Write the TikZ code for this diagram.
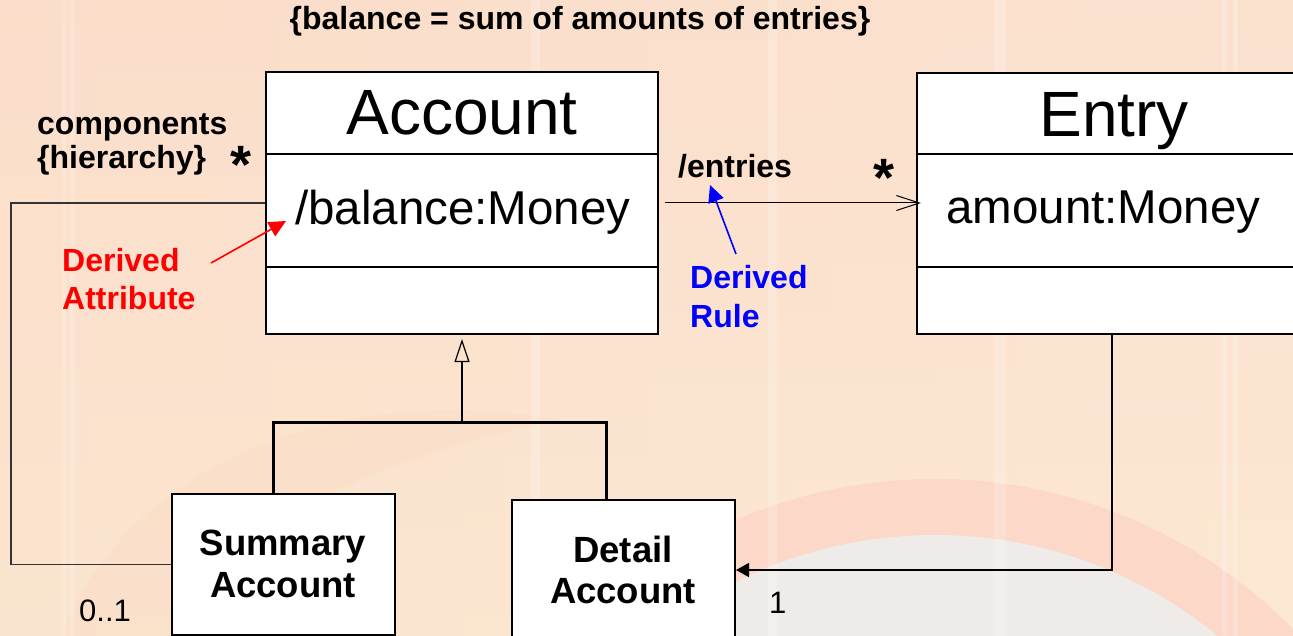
\documentclass[tikz,border=0pt]{standalone}
\usepackage{fontspec}
\setmainfont{Liberation Sans}
\usetikzlibrary{arrows.meta}

% slide background
\definecolor{bgL}{HTML}{FBE0CB}
\definecolor{bgR}{HTML}{FCE7D4}
\definecolor{bgTop}{HTML}{FADCCA}
\definecolor{bgBot}{HTML}{FCE9D3}
\definecolor{bandpink}{HTML}{FCD8C8}
\definecolor{diskgrey}{HTML}{EFEBE8}
\definecolor{swirl}{HTML}{F6C9A6}
% diagram
\definecolor{notered}{HTML}{FF0000}
\definecolor{noteblue}{HTML}{0000FF}
\definecolor{wire}{HTML}{333333}

\begin{document}
\begin{tikzpicture}[x=1pt,y=-1pt,
  classbox/.style={draw=black, line width=2pt, fill=white, inner sep=0pt, anchor=north west},
  divider/.style={line width=2pt},
  classname/.style={font=\fontsize{64}{70}\selectfont, anchor=base, inner sep=0pt},
  attr/.style={font=\fontsize{47.5}{52}\selectfont, anchor=base west, inner sep=0pt},
  note/.style={font=\bfseries\fontsize{32}{36}\selectfont, anchor=base west, inner sep=0pt},
  subname/.style={font=\bfseries\fontsize{36.5}{40}\selectfont, anchor=base, inner sep=0pt},
  mult/.style={font=\fontsize{31}{34}\selectfont, anchor=base west, inner sep=0pt},
  star/.style={font=\bfseries\fontsize{54}{58}\selectfont, anchor=base, inner sep=0pt},
  assoc/.style={line width=1pt, draw=black},
  treeline/.style={line width=3pt, draw=black},
  pointer/.style={line width=1.6pt, -{Triangle[length=17pt,width=16pt]}},
]
\useasboundingbox (0,0) rectangle (1293,636);
\clip (0,0) rectangle (1293,636);

% ---- background ----
\shade[left color=bgL, right color=bgR] (0,0) rectangle (1293,636);
\shade[top color=bgTop, bottom color=bgBot, opacity=0.5] (0,0) rectangle (1293,636);
\fill[swirl, opacity=0.12] (60,640) .. controls (120,470) and (330,380) .. (560,420)
  .. controls (400,450) and (230,520) .. (170,640) -- cycle;
\fill[bandpink] (935,981) circle[radius=502pt];
\fill[diskgrey] (935,981) circle[radius=446pt];
\foreach \sx/\sw in {62/4, 70/5, 531/9, 768/9, 994/12, 1222/5, 1233/5}
  \fill[white, opacity=0.2] (\sx,0) rectangle ++(\sw,636);

% ---- title constraint ----
\node[note, anchor=base] (rule) at (580,30) {\{balance = sum of amounts of entries\}};

% ---- Account class ----
\node[classbox, minimum width=392pt, minimum height=262pt] (acc) at (265,71) {};
\draw[divider] ([yshift=-83pt]acc.north west) -- ([yshift=-83pt]acc.north east);
\draw[divider] ([yshift=-196pt]acc.north west) -- ([yshift=-196pt]acc.north east);
\node[classname] (accname) at (462,135) {Account};
\node[attr] (accattr) at (295,225) {/balance:Money};

% ---- Entry class ----
\node[classbox, minimum width=398pt, minimum height=261pt] (ent) at (916,72) {};
\draw[divider] ([yshift=-82pt]ent.north west) -- ([yshift=-82pt]ent.north east);
\draw[divider] ([yshift=-195pt]ent.north west) -- ([yshift=-195pt]ent.north east);
\node[classname] (entname) at (1114,137) {Entry};
\node[attr] (entattr) at (946,224) {amount:Money};

% ---- subclasses ----
\node[classbox, minimum width=223pt, minimum height=141pt] (sum) at (171,493) {};
\node[subname] (sumname1) at (283,555) {Summary};
\node[subname] (sumname2) at (283,597) {Account};
\node[classbox, minimum width=223pt, minimum height=140pt] (det) at (511,499) {};
\node[subname] (detname1) at (623,562) {Detail};
\node[subname] (detname2) at (623,603) {Account};

% ---- labels ----
\node[note] (comp1) at (37,135) {components};
\node[note] (comp2) at (37,169) {\{hierarchy\}};
\node[star] (star1) at (241,184) {*};
\node[note, text=notered] (dattr1) at (62,272) {Derived};
\node[note, text=notered] (dattr2) at (62,309) {Attribute};
\node[note] (entries) at (678,178) {/entries};
\node[star] (star2) at (884,197) {*};
\node[note, text=noteblue] (drule1) at (690,289) {Derived};
\node[note, text=noteblue] (drule2) at (690,327) {Rule};
\node[mult] (m01) at (79,621) {0..1};
\node[mult] (m1) at (769,613) {1};

% ---- connectors ----
% /entries association
\draw[assoc, -{Straight Barb[length=23pt,width=15pt,line width=1pt]}, shorten >=-5pt]
  ([xshift=6pt]acc.east) -- (ent.west |- acc.east);

% components self-association
\coordinate (loopx) at (11,400);
\draw[line width=1.2pt, draw=wire]
  (acc.west) -- (acc.west -| loopx) -- (sum.west -| loopx) -- (sum.west);

% generalisation tree
\coordinate (jL) at (273,422);
\coordinate (jR) at (606,422);
\draw[treeline] (jL |- sum.north) -- (jL) -- (jR) -- (jR |- det.north);
\draw[line width=1.2pt, -{Triangle[open,length=23pt,width=15pt,line width=1.2pt]}]
  (acc.south |- jL) -- ([yshift=-4pt]acc.south);

% Entry to Detail Account
\coordinate (edrop) at (1112,400);
\draw[line width=1.5pt, draw=wire, -{Triangle[length=13pt,width=14pt]}, color=black]
  (ent.south -| edrop) -- (edrop |- det.east) -- (det.east);

% annotation pointers
\coordinate (dattrTail) at (211,263);
\coordinate (balTip) at (286,221);
\draw[pointer, notered] (dattrTail) -- (balTip);
\coordinate (druleTail) at (736,254);
\coordinate (entriesTip) at (710,185);
\draw[pointer, noteblue] (druleTail) -- (entriesTip);
\end{tikzpicture}
\end{document}
